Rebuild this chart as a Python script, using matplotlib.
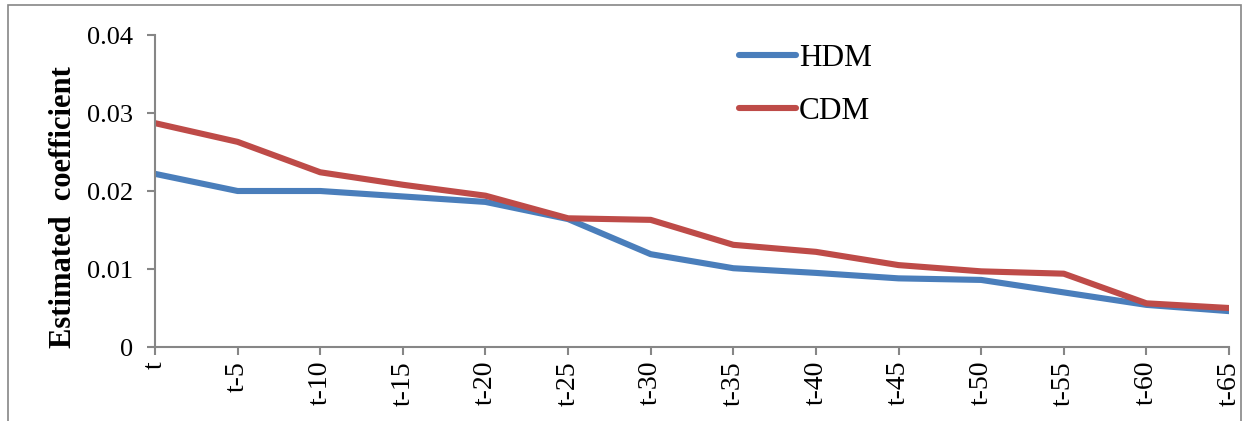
import matplotlib
matplotlib.use("Agg")
import matplotlib.pyplot as plt
from matplotlib.patches import Rectangle

# estimated coefficients by lag
lags = ["t", "t-5", "t-10", "t-15", "t-20", "t-25", "t-30",
        "t-35", "t-40", "t-45", "t-50", "t-55", "t-60", "t-65"]
hdm = [0.0222, 0.0200, 0.0200, 0.0193, 0.0186, 0.0164, 0.0119,
       0.0101, 0.0095, 0.0088, 0.0086, 0.0070, 0.0054, 0.0046]
cdm = [0.0287, 0.0263, 0.0224, 0.0208, 0.0194, 0.0165, 0.0163,
       0.0131, 0.0122, 0.0105, 0.0097, 0.0094, 0.0056, 0.0050]
yticks = [0, 0.01, 0.02, 0.03, 0.04]
ytick_labels = ["0", "0.01", "0.02", "0.03", "0.04"]

plt.rcParams['font.family'] = ['Liberation Serif', 'DejaVu Serif']
grey = '#868686'

fig = plt.figure(figsize=(12.46, 4.21), dpi=100)
ax = fig.add_axes([155/1246, 1 - 347/421, (1229 - 155)/1246, (347 - 35)/421])

x = range(len(lags))
ax.plot(x, hdm, color='#4A7EBB', lw=4.4, label='HDM', solid_capstyle='round')
ax.plot(x, cdm, color='#BE4B48', lw=4.4, label='CDM', solid_capstyle='round')

ax.set_xlim(0, len(lags) - 1)
ax.set_ylim(0, 0.04)
ax.set_xticks(list(x))
ax.set_xticklabels(lags, rotation=90, fontsize=20)
ax.set_yticks(yticks)
ax.set_yticklabels(ytick_labels, fontsize=19)
ax.set_ylabel('Estimated  coefficient', fontsize=22, fontweight='bold')
ax.yaxis.set_label_coords(-0.072, 0.45)

for side in ['top', 'right']:
    ax.spines[side].set_visible(False)
for side in ['left', 'bottom']:
    ax.spines[side].set_color(grey)
    ax.spines[side].set_linewidth(1.5)
ax.tick_params(axis='both', colors=grey, length=6, width=1.5, labelcolor='black')
ax.tick_params(axis='y', pad=10)
ax.tick_params(axis='x', pad=4)

ax.legend(loc='upper left', bbox_to_anchor=(0.518, 1.06), frameon=False, fontsize=22.5,
          handlelength=1.8, handletextpad=0.1, labelspacing=0.75)

# outer chart border
fig.patches.append(Rectangle((8/1246, -0.05), (1241 - 8)/1246, 1.05 - 5/421,
                             transform=fig.transFigure, fill=False,
                             edgecolor=grey, lw=1.2))

fig.savefig('out.png', dpi=100)
